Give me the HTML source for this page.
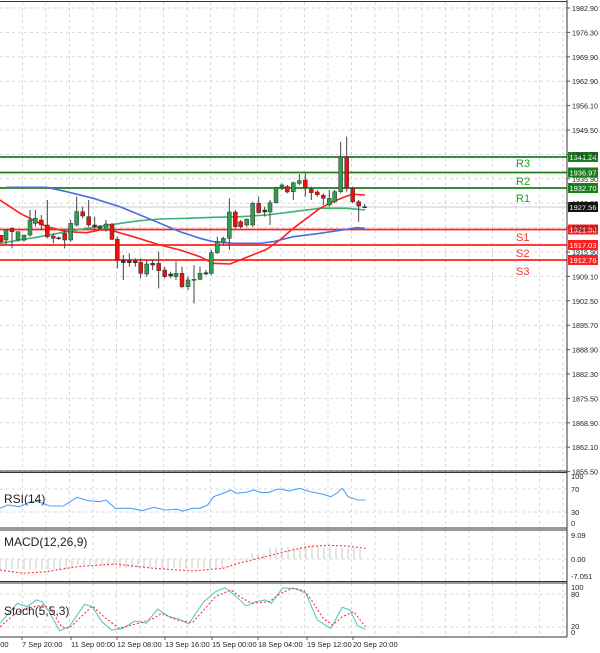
<!DOCTYPE html><html><head><meta charset="utf-8"><style>
body{margin:0;background:#fff;width:600px;height:653px;overflow:hidden}
svg{display:block;font-family:"Liberation Sans",sans-serif}
</style></head><body>
<svg id="s" width="600" height="653" xmlns="http://www.w3.org/2000/svg">
<g id="grid" stroke="#d8d8d8" stroke-dasharray="3,3" stroke-width="1"></g>
<g id="lev"></g>
<g id="ma" fill="none" stroke-width="1.6"></g>
<g id="cdl"></g>
<g id="ind" fill="none"></g>
<g id="frame" stroke="#333" fill="none" stroke-width="1">
<line x1="0" y1="1.5" x2="567" y2="1.5"/>
<line x1="567" y1="0" x2="567" y2="637"/>
<line x1="0" y1="471" x2="567" y2="471"/>
<line x1="0" y1="472.5" x2="567" y2="472.5"/>
<line x1="0" y1="528" x2="567" y2="528"/>
<line x1="0" y1="530" x2="567" y2="530"/>
<line x1="0" y1="581.5" x2="567" y2="581.5"/>
<line x1="0" y1="583" x2="567" y2="583"/>
<line x1="0" y1="637" x2="567" y2="637"/>
</g>
<g id="txt" font-size="7.5" fill="#222"></g>
</svg>
<script>
const NS="http://www.w3.org/2000/svg";
function el(p,t,a,txt){const e=document.createElementNS(NS,t);for(const k in a)e.setAttribute(k,a[k]);if(txt!==undefined)e.textContent=txt;document.getElementById(p).appendChild(e);return e;}
const ticks=["1982.90","1976.30","1969.90","1962.90","1956.10","1949.50","1942.70","1935.90","1929.30","1922.50","1915.90","1909.10","1902.50","1895.70","1888.90","1882.30","1875.50","1868.90","1862.10","1855.50"];
ticks.forEach((t,i)=>{const y=8+i*24.4;el("grid","line",{x1:0,y1:y,x2:567,y2:y});el("txt","line",{x1:567,y1:y,x2:570,y2:y,stroke:"#555"});el("txt","text",{x:572,y:y+3,textLength:26,lengthAdjust:"spacingAndGlyphs"},t);});
for(let x=-1;x<567;x+=23.5){el("grid","line",{x1:x,y1:2,x2:x,y2:471});el("grid","line",{x1:x,y1:473,x2:x,y2:528});el("grid","line",{x1:x,y1:530,x2:x,y2:581});el("grid","line",{x1:x,y1:583,x2:x,y2:637});}
[489,512,559,594,627].forEach(y=>el("grid","line",{x1:0,y1:y,x2:567,y2:y}));
[["100",479],["70",492],["30",515],["0",526],["9.09",538],["0.00",562],["-7.051",579],["100",590],["80",597],["20",629],["0",635]].forEach(a=>el("txt","text",{x:571,y:a[1]},a[0]));
[[157,"#1a7f1a","1941.24","R3",163],[172.5,"#1a7f1a","1936.97","R2",181],[188,"#1a7f1a","1932.70","R1",198],[229.5,"#ff2020","1921.30","S1",237],[245,"#ff2020","1917.03","S2",253],[260,"#ff2020","1912.76","S3",271]].forEach(l=>{
el("lev","line",{x1:0,y1:l[0],x2:567,y2:l[0],stroke:l[1],"stroke-width":1.8});
el("lev","rect",{x:568,y:l[0]-5,width:30,height:10,fill:l[1]});
el("lev","text",{x:569.5,y:l[0]+3,"font-size":"7.5",fill:"#fff",textLength:27,lengthAdjust:"spacingAndGlyphs"},l[2]);
el("lev","text",{x:516,y:l[4]+4,"font-size":"11",fill:l[1]==="#1a7f1a"?"#2a9a2a":"#ff3030"},l[3]);});
el("lev","line",{x1:0,y1:207,x2:567,y2:207,stroke:"#ccc","stroke-width":1});
el("lev","rect",{x:568,y:202,width:30,height:10,fill:"#111"});
el("lev","text",{x:569.5,y:210,"font-size":"7.5",fill:"#fff",textLength:27,lengthAdjust:"spacingAndGlyphs"},"1927.56");
function pl(pts,sx,ox,oy,sy){return pts.map(p=>(ox+p[0]/sx).toFixed(1)+","+(oy+p[1]/sy).toFixed(1)).join(" ");}
const red=[[0,210],[60,250],[100,270],[140,290],[200,305],[260,308],[300,300],[330,300],[400,320],[480,345],[540,360],[600,380],[640,400],[690,402],[720,390],[800,358],[840,330],[880,295],[920,265],[960,235],[1000,215],[1040,198],[1060,193],[1095,195]];
const blue=[[20,172],[140,172],[200,185],[280,205],[360,230],[420,255],[480,280],[540,305],[600,325],[640,335],[700,340],[780,340],[820,335],[880,320],[960,310],[1040,298],[1070,293],[1095,295]];
const green=[[0,340],[60,330],[120,320],[200,305],[260,295],[340,283],[420,272],[480,267],[560,265],[640,262],[720,260],[800,255],[880,245],[960,235],[1040,235],[1095,240]];
el("ma","polyline",{points:pl(green,3,0,130,3),stroke:"#3cb371"});
el("ma","polyline",{points:pl(blue,3,0,130,3),stroke:"#4a6ee0"});
el("ma","polyline",{points:pl(red,3,0,130,3),stroke:"#ff2020"});
const C=[[3,"R",316,316,335,340],[18,"G",298,298,330,345],[36,"R",292,295,305,355],[54,"G",305,305,330,335],[72,"G",315,315,330,335],[90,"G",240,270,315,320],[106,"G",240,265,280,290],[124,"R",255,270,285,300],[142,"R",210,285,320,325],[160,"R",310,318,325,340],[176,"D",320,323,325,330],[194,"R",300,310,330,355],[212,"G",270,280,330,335],[230,"G",200,245,285,290],[248,"R",230,245,258,265],[266,"R",210,260,285,290],[284,"D",260,285,290,300],[300,"D",285,290,295,300],[318,"G",270,282,300,305],[336,"R",280,282,328,330],[352,"R",320,328,390,415],[370,"D",375,390,398,450],[388,"D",370,392,398,410],[406,"D",385,393,398,410],[422,"R",385,397,430,445],[440,"G",390,402,432,440],[458,"D",390,400,405,420],[476,"R",365,400,422,475],[494,"R",410,420,440,445],[512,"D",425,432,438,445],[528,"G",395,430,440,450],[546,"R",410,430,470,475],[564,"G",440,450,470,480],[582,"G",405,448,450,520],[600,"G",410,430,448,450],[618,"D",420,428,432,435],[634,"G",360,368,430,435],[652,"G",320,335,368,372],[670,"G",320,325,338,345],[688,"G",205,246,325,360],[706,"R",240,246,290,295],[722,"R",270,275,290,295],[740,"G",265,268,285,290],[758,"G",215,220,285,290],[776,"R",200,220,248,250],[794,"D",230,240,246,260],[810,"G",210,218,246,285],[828,"G",170,172,218,220],[846,"G",160,165,172,180],[862,"R",165,170,186,190],[880,"G",155,158,185,210],[898,"G",132,152,160,165],[916,"R",130,150,172,200],[934,"R",170,178,188,210],[952,"R",180,186,194,200],[970,"R",190,196,205,225],[988,"G",180,205,225,230],[1004,"G",180,185,215,220],[1022,"G",35,80,185,190],[1040,"R",20,80,175,185],[1058,"R",170,175,215,220],[1076,"R",210,215,228,275],[1094,"D",222,230,232,235]];
C.forEach(c=>{const x=c[0]/3,f=v=>130+v/3;
el("cdl","line",{x1:x,y1:f(c[2]),x2:x,y2:f(c[5]),stroke:"#444","stroke-width":1});
const h=Math.max(1,f(c[4])-f(c[3]));
el("cdl","rect",{x:x-2,y:f(c[3]),width:4,height:h,fill:c[1]==="G"?"#2e9e4e":c[1]==="R"?"#ee1010":"#333",stroke:"#333","stroke-width":0.5});});
const rsi=[[0,145],[20,135],[50,140],[80,125],[100,125],[130,138],[165,138],[200,112],[230,122],[260,125],[275,120],[300,145],[340,145],[370,152],[400,142],[430,150],[460,148],[475,153],[500,145],[520,145],[540,135],[555,110],[580,100],[600,90],[615,100],[640,97],[660,90],[680,98],[700,97],[720,88],[735,88],[750,93],[780,85],[800,93],[840,103],[860,110],[875,100],[890,85],[905,110],[930,120],[950,120]];
el("ind","polyline",{points:pl(rsi,2.6,0,460,3),stroke:"#4da3ff","stroke-width":1.1});
for(let zx=0;zx<=950;zx+=15.6){let t;if(zx<590){t=zx<200?328:zx<300?316:325;}else if(zx<640){t=300;}else if(zx<700){t=280;}else if(zx<800){t=262;}else t=258+(zx-800)/15;
const x=zx/2.6;el("ind","line",{x1:x,y1:559,x2:x,y2:460+t/3,stroke:"#c8c8c8","stroke-width":1});}
const sig=[[0,330],[60,340],[120,335],[200,320],[300,312],[400,325],[500,333],[580,325],[620,310],[680,293],[740,275],[800,260],[850,256],[900,258],[950,265]];
el("ind","polyline",{points:pl(sig,2.6,0,460,3),stroke:"#ff3030","stroke-width":1.1,"stroke-dasharray":"2,2"});
const st=[[0,490],[45,430],[70,440],[95,420],[110,425],[130,460],[155,512],[180,500],[220,433],[240,440],[265,485],[290,510],[320,505],[350,483],[380,490],[410,447],[440,470],[465,477],[490,492],[530,425],[560,395],[585,383],[610,405],[640,438],[665,425],[690,420],[705,430],[735,384],[770,386],[795,400],[825,480],[860,505],[890,442],[910,450],[930,498],[950,508]];
const ss=[[0,500],[40,460],[70,445],[110,435],[130,445],[160,500],[180,505],[240,438],[270,470],[310,505],[360,490],[400,475],[420,460],[460,480],[500,488],[530,450],[560,410],[600,390],[630,415],[655,430],[700,425],[730,400],[760,385],[790,392],[810,420],[840,475],[865,495],[890,470],[920,455],[950,500]];
el("ind","polyline",{points:pl(st,2.6,0,460,3),stroke:"#5cc8c0","stroke-width":1.1});
el("ind","polyline",{points:pl(ss,2.6,0,460,3),stroke:"#ff3030","stroke-width":1.1,"stroke-dasharray":"2,2"});
el("txt","text",{x:4,y:503,"font-size":"12"},"RSI(14)");
el("txt","text",{x:4,y:546,"font-size":"12"},"MACD(12,26,9)");
el("txt","text",{x:4,y:615,"font-size":"12"},"Stoch(5,5,3)");
[["2:00",-6],["7 Sep 20:00",22],["11 Sep 00:00",71],["12 Sep 08:00",117],["13 Sep 16:00",165],["15 Sep 00:00",212],["18 Sep 04:00",258],["19 Sep 12:00",307],["20 Sep 20:00",353]].forEach(a=>{el("txt","text",{x:a[1],y:647,"font-size":"7.5"},a[0]);el("txt","line",{x1:a[1],y1:637,x2:a[1],y2:640,stroke:"#555"});});
</script>
</body></html>
